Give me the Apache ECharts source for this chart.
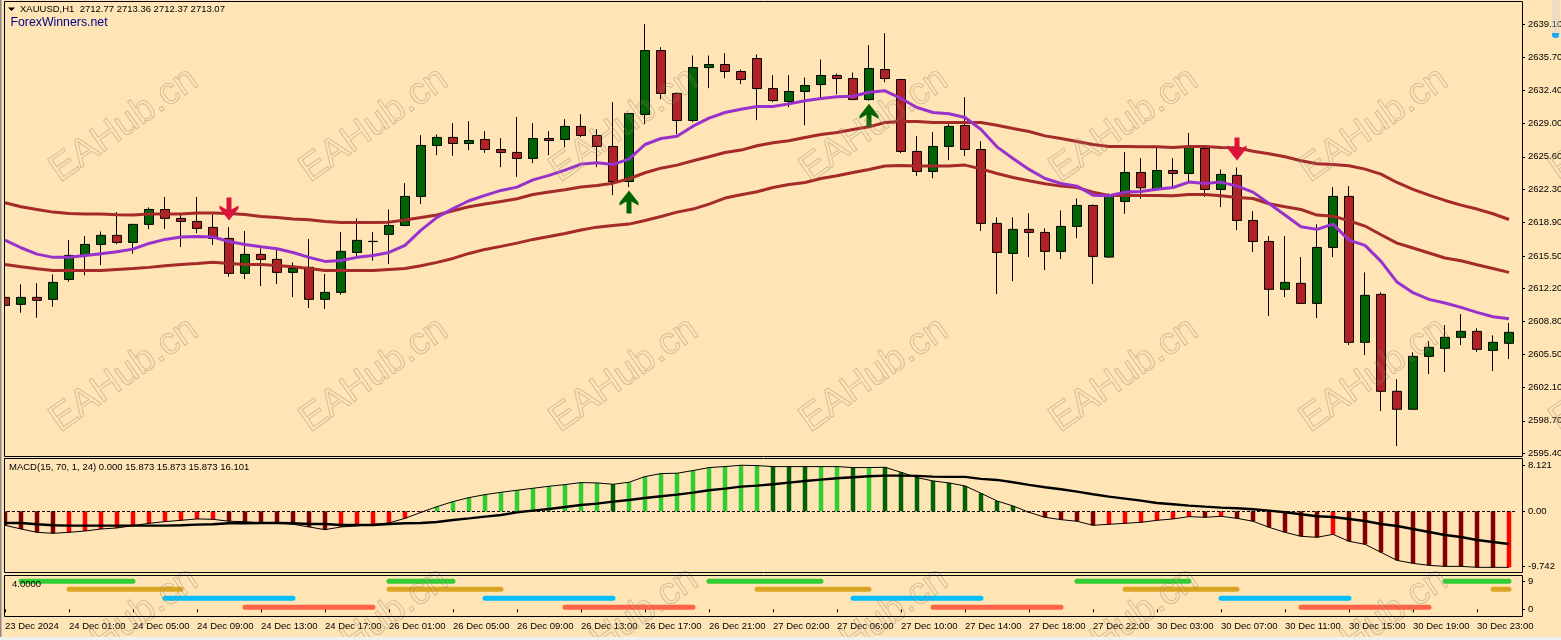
<!DOCTYPE html>
<html><head><meta charset="utf-8">
<style>html,body{margin:0;padding:0;background:#FFE4B5}#c{width:1561px;height:640px}</style>
<script src="https://cdn.jsdelivr.net/npm/echarts@6/dist/echarts.min.js"></script>
</head><body><div id="c"></div><script>
const tickLabels=['23 Dec 2024','24 Dec 01:00','24 Dec 05:00','24 Dec 09:00','24 Dec 13:00','24 Dec 17:00','26 Dec 01:00','26 Dec 05:00','26 Dec 09:00','26 Dec 13:00','26 Dec 17:00','26 Dec 21:00','27 Dec 02:00','27 Dec 06:00','27 Dec 10:00','27 Dec 14:00','27 Dec 18:00','27 Dec 22:00','30 Dec 03:00','30 Dec 07:00','30 Dec 11:00','30 Dec 15:00','30 Dec 19:00','30 Dec 23:00'];
const priceTicks=[2595.4,2598.7,2602.1,2605.5,2608.8,2612.2,2615.5,2618.9,2622.3,2625.6,2629.0,2632.4,2635.7,2639.1];
const opens=[
2611.28,2610.57,2611.28,2611.08,2613.11,2615.56,2616.68,2617.6,2616.88,2618.72,
2620.24,2619.33,2619.02,2618.41,2617.29,2613.73,2615.66,2615.15,2613.83,2614.34,
2611.08,2611.79,2615.86,2616.97,2617.7,2618.61,2621.57,2626.76,2627.58,2626.96,
2627.37,2626.35,2626.05,2625.44,2627.47,2627.37,2628.7,2627.78,2626.66,2623.09,
2629.92,2636.43,2632.06,2629.31,2634.7,2635.01,2634.3,2635.62,2632.56,2631.24,
2632.26,2632.97,2633.89,2633.58,2631.44,2634.5,2633.48,2626.15,2624.11,2626.66,
2628.8,2626.35,2618.82,2615.76,2618.21,2617.9,2615.97,2618.51,2620.65,2615.39,
2621.06,2624.01,2622.28,2624.21,2623.91,2626.45,2622.28,2623.71,2619.12,2616.98,
2612.1,2612.71,2610.67,2616.37,2621.57,2606.7,2611.59,2601.71,2599.88,2605.27,
2606.09,2607.21,2607.82,2605.88,2606.6];
const closes=[
2610.47,2611.28,2610.98,2612.81,2615.56,2616.68,2617.6,2616.88,2618.72,2620.24,
2619.33,2619.02,2618.31,2617.29,2613.73,2615.66,2615.15,2613.83,2614.23,2611.08,
2611.79,2615.97,2617.09,2616.99,2618.61,2621.57,2626.76,2627.58,2626.96,2627.27,
2626.35,2626.05,2625.44,2627.47,2627.27,2628.7,2627.78,2626.66,2623.09,2630.02,
2636.43,2632.06,2629.31,2634.7,2635.01,2634.3,2633.48,2632.56,2631.34,2632.26,
2632.87,2633.89,2633.58,2631.44,2634.6,2633.58,2626.15,2624.11,2626.66,2628.7,
2626.35,2618.82,2615.86,2618.21,2617.9,2615.97,2618.51,2620.65,2615.46,2621.6,
2624.01,2622.45,2624.21,2623.91,2626.59,2622.28,2623.81,2619.12,2616.98,2612.1,
2612.81,2610.67,2616.37,2621.57,2606.7,2611.49,2601.71,2599.88,2605.27,2606.19,
2607.21,2607.82,2605.99,2606.7,2607.72];
const lows=[
2609.92,2609.72,2609.21,2610.33,2612.88,2613.52,2614.57,2616.71,2615.73,2618.24,
2618.24,2616.41,2617.83,2616.61,2613.39,2613.15,2612.44,2612.64,2611.32,2610.2,
2610.09,2611.55,2615.49,2615.02,2614.68,2618.55,2620.79,2625.78,2625.71,2626.29,
2626.01,2624.55,2623.57,2624.96,2625.78,2626.59,2627.61,2624.55,2621.7,2622.52,
2628.93,2631.48,2627.91,2629.14,2632.6,2633.62,2633.01,2629.34,2631.17,2630.66,
2628.83,2631.68,2631.99,2631.44,2631.31,2633.21,2625.98,2623.64,2623.43,2625.27,
2625.67,2618.04,2611.62,2612.94,2615.39,2614.07,2615.19,2617.32,2612.64,2615.32,
2619.8,2621.33,2622.21,2622.55,2623.06,2621.53,2620.48,2618.14,2615.9,2609.38,
2611.32,2610.67,2609.18,2615.39,2606.43,2605.41,2599.71,2596.14,2599.88,2603.47,
2603.68,2606.43,2605.72,2603.78,2605.0];
const highs=[
2612.71,2612.61,2612.71,2613.62,2617.12,2617.53,2618.0,2619.97,2618.72,2620.45,
2621.5,2619.84,2621.5,2619.73,2618.44,2618.04,2616.27,2616.17,2614.85,2617.22,
2613.66,2617.93,2619.33,2617.93,2620.24,2622.92,2627.81,2627.88,2629.03,2629.24,
2628.22,2627.51,2629.65,2629.03,2628.22,2629.44,2629.95,2628.42,2631.17,2630.05,
2639.12,2636.77,2632.16,2635.93,2635.93,2636.16,2634.5,2636.03,2633.92,2633.92,
2633.68,2635.52,2634.09,2634.19,2636.98,2638.2,2633.48,2627.71,2628.12,2628.93,
2631.68,2627.2,2619.43,2619.43,2619.84,2618.31,2620.14,2621.36,2620.75,2621.87,
2626.08,2625.47,2626.49,2625.47,2628.02,2626.62,2624.32,2624.52,2620.07,2617.53,
2617.53,2615.39,2618.72,2622.52,2622.62,2613.83,2611.79,2602.93,2605.68,2606.84,
2608.46,2609.58,2608.13,2607.41,2608.67];
const upperBand=[
2620.92,2620.51,2620.24,2619.97,2619.84,2619.77,2619.77,2619.7,2619.67,2619.77,
2619.77,2619.77,2619.87,2619.87,2619.84,2619.73,2619.53,2619.43,2619.26,2619.19,
2619.02,2618.92,2618.92,2618.92,2618.95,2619.16,2619.43,2619.67,2620.11,2620.51,
2620.79,2621.06,2621.33,2621.77,2622.01,2622.25,2622.52,2622.69,2622.92,2623.37,
2623.98,2624.45,2624.76,2625.2,2625.61,2626.05,2626.29,2626.73,2627.03,2627.24,
2627.58,2627.88,2628.08,2628.39,2628.66,2629.1,2629.2,2629.2,2629.1,2629.1,
2629.1,2629.1,2628.83,2628.49,2628.19,2627.74,2627.47,2627.17,2626.86,2626.66,
2626.66,2626.62,2626.62,2626.56,2626.66,2626.66,2626.56,2626.52,2626.18,2625.91,
2625.61,2625.2,2624.89,2624.83,2624.69,2624.35,2623.84,2622.99,2622.28,2621.7,
2621.16,2620.68,2620.28,2619.8,2619.22];
const lowerBand=[
2614.64,2614.4,2614.2,2614.03,2614.03,2614.03,2614.03,2614.13,2614.23,2614.34,
2614.51,2614.64,2614.74,2614.85,2614.74,2614.64,2614.64,2614.54,2614.4,2614.23,
2614.03,2614.03,2614.03,2614.03,2614.13,2614.23,2614.51,2614.85,2615.25,2615.76,
2616.17,2616.48,2616.81,2617.19,2617.49,2617.8,2618.14,2618.44,2618.61,2618.75,
2619.12,2619.53,2619.97,2620.28,2620.79,2621.4,2621.74,2622.04,2622.48,2622.79,
2622.99,2623.4,2623.67,2624.01,2624.32,2624.66,2624.72,2624.66,2624.66,2624.66,
2624.76,2624.38,2623.91,2623.5,2623.16,2622.86,2622.62,2622.48,2622.01,2621.67,
2621.7,2621.67,2621.67,2621.63,2621.77,2621.77,2621.63,2621.47,2621.36,2620.82,
2620.51,2620.24,2619.67,2619.56,2619.09,2618.55,2617.66,2616.81,2616.31,2615.8,
2615.29,2615.02,2614.61,2614.23,2613.83];
const purpleLine=[
2617.12,2616.34,2615.69,2615.36,2615.36,2615.56,2615.73,2615.93,2616.2,2616.78,
2617.19,2617.43,2617.49,2617.43,2616.98,2616.68,2616.44,2616.24,2615.86,2615.36,
2614.95,2615.05,2615.36,2615.56,2615.86,2616.58,2618.14,2619.43,2620.34,2621.13,
2621.67,2622.18,2622.52,2623.26,2623.71,2624.25,2624.86,2625.0,2624.83,2625.37,
2626.86,2627.47,2627.71,2628.73,2629.54,2630.12,2630.46,2630.73,2630.73,2631.0,
2631.31,2631.55,2631.72,2631.78,2632.19,2632.33,2631.55,2630.63,2630.12,2629.99,
2629.61,2628.39,2626.62,2625.44,2624.32,2623.4,2622.89,2622.62,2621.7,2621.63,
2622.01,2622.08,2622.31,2622.48,2623.03,2622.89,2623.03,2622.62,2622.01,2620.85,
2619.67,2618.48,2618.21,2618.75,2617.12,2616.58,2614.95,2612.84,2611.76,2611.08,
2610.71,2610.26,2609.75,2609.31,2609.11];
const macdHist=[
-2.47,-3.12,-3.71,-3.88,-3.71,-3.47,-3.12,-2.94,-2.53,-2.12,
-1.82,-1.59,-1.35,-1.41,-1.76,-1.82,-2.06,-2.06,-2.29,-2.76,
-3.24,-2.76,-2.59,-2.29,-2.06,-1.24,-0.18,0.82,1.71,2.41,
2.94,3.35,3.71,4.06,4.41,4.71,5.06,5.0,4.76,5.12,
6.12,6.65,6.71,7.18,7.71,7.88,8.12,8.06,7.88,7.88,
7.88,7.88,7.88,7.71,7.71,7.76,6.88,5.94,5.35,5.0,
4.47,3.18,1.82,0.94,-0.18,-1.06,-1.47,-1.76,-2.47,-2.29,
-2.12,-1.94,-1.59,-1.35,-0.94,-1.06,-0.88,-1.24,-1.76,-2.82,
-3.71,-4.41,-4.59,-4.06,-5.29,-5.82,-7.24,-8.65,-9.18,-9.53,
-9.71,-9.71,-9.88,-9.88,-9.88];
const macdDark=[
1,1,1,1,0,0,0,0,0,0,
0,0,0,0,1,1,1,1,1,1,
1,0,0,0,0,0,0,0,0,0,
0,0,0,0,0,0,0,0,1,0,
0,0,0,0,0,0,0,0,1,1,
1,0,0,1,0,1,1,1,1,1,
1,1,1,1,1,1,1,1,1,0,
0,0,0,0,0,1,0,1,1,1,
1,1,1,0,1,1,1,1,1,1,
1,1,1,1,0];
const macdSignal=[
-2.06,-2.06,-2.29,-2.47,-2.53,-2.53,-2.53,-2.53,-2.53,-2.53,
-2.53,-2.47,-2.35,-2.29,-2.12,-2.12,-2.06,-2.06,-2.12,-2.24,
-2.24,-2.41,-2.41,-2.41,-2.24,-2.12,-2.06,-1.88,-1.53,-1.24,
-0.94,-0.65,-0.18,0.12,0.41,0.76,1.12,1.35,1.71,2.0,
2.35,2.65,2.94,3.29,3.71,4.0,4.35,4.53,4.76,5.06,
5.35,5.59,5.82,6.0,6.18,6.29,6.29,6.24,6.12,6.06,
6.06,5.71,5.53,5.12,4.65,4.24,3.88,3.47,3.0,2.59,
2.24,1.88,1.47,1.24,1.0,0.82,0.65,0.53,0.35,0.12,
-0.18,-0.53,-0.88,-1.0,-1.35,-1.71,-2.24,-2.59,-3.12,-3.65,
-4.18,-4.53,-5.06,-5.41,-5.76];
const downArrows=[[14,2620.28],[77,2626.39]];
const upArrows=[[39,2620.99],[54,2629.85]];
const greenSpans=[[1,8],[24,28],[44,51],[67,74],[90,94]];
const goldSpans=[[4,11],[24,31],[47,54],[70,77],[93,94]];
const blueSpans=[[10,18],[30,38],[53,61],[76,84]];
const orangeSpans=[[15,23],[35,43],[58,66],[81,89]];
const stripeLevels=[9,6.43,3.54,0.64];

const n=opens.length;
const categories=opens.map((_,i)=>i%4===0?tickLabels[i/4]:'c'+i);
const candleData=opens.map((o,i)=>[o,closes[i],lows[i],highs[i]]);
const spanLine=(spans,level)=>{
  const a=new Array(n).fill(null);
  spans.forEach(([s,e])=>{for(let i=s;i<=e;i++)a[i]=level;});
  return a;
};
const FONT='"Liberation Sans",Arial,sans-serif';
const SMALL=9.5;
const chart=echarts.init(document.getElementById('c'),null,{renderer:'canvas'});
const frameStroke={stroke:'#000',lineWidth:1,fill:'transparent'};
const els=[];
// watermark
for(const cy of [125,375,625]) for(const cx of [124,374,624,874,1124,1374,1624]){
  els.push({type:'text',x:cx,y:cy,rotation:35*Math.PI/180,z:50,silent:true,
    style:{text:'EAHub.cn',font:'38px '+FONT,align:'center',verticalAlign:'middle',
      textAlign:'center',textVerticalAlign:'middle',fill:'rgba(255,255,255,0.06)',stroke:'rgba(130,110,80,0.34)',lineWidth:1}});
}
// window edges and panel frames
els.push({type:'rect',z:60,shape:{x:0,y:0,width:4,height:640},style:{fill:'#FFE4B5'}});
els.push({type:'rect',z:61,shape:{x:0,y:0,width:1.5,height:637},style:{fill:'#8a8a8a'}});
els.push({type:'rect',z:61,shape:{x:0,y:637,width:1561,height:3},style:{fill:'#F0F0F0'}});
[[1.5,455],[458.5,114],[575.5,41]].forEach(([y,h])=>{
  els.push({type:'rect',z:62,shape:{x:4.5,y,width:1518,height:h},style:frameStroke});
});
els.push({type:'rect',z:10,shape:{x:1552,y:0,width:8,height:38},style:{fill:'rgba(200,205,215,0.35)'}});
els.push({type:'rect',z:11,shape:{x:1552,y:33,width:7,height:5,r:[0,0,3,3]},style:{fill:'#1EA7F2'}});
// header texts
els.push({type:'polygon',z:70,shape:{points:[[8,7.5],[15,7.5],[11.5,11]]},style:{fill:'#000'}});
const txt=(x,y,text,font,fill)=>els.push({type:'text',x,y,z:70,silent:true,
  style:{text,font,fill,textVerticalAlign:'middle',verticalAlign:'middle'}});
txt(20,9.5,'XAUUSD,H1  2712.77 2713.36 2712.37 2713.07',SMALL+'px '+FONT,'#000');
txt(10.5,23,'ForexWinners.net','12.3px '+FONT,'#00008B');
txt(9,467.5,'MACD(15, 70, 1, 24) 0.000 15.873 15.873 15.873 16.101',SMALL+'px '+FONT,'#000');
txt(12,584,'4.0000',SMALL+'px '+FONT,'#000');

const yCommon={type:'value',position:'right',offset:5,scale:true,splitLine:{show:false},axisLine:{show:false},
  axisTick:{show:true,length:3,lineStyle:{color:'#000'}},
  axisLabel:{color:'#000',fontFamily:FONT,fontSize:SMALL,margin:6,showMinLabel:true,showMaxLabel:true}};
const xCommon={type:'category',data:categories,boundaryGap:true,axisLine:{show:false},splitLine:{show:false}};
const levelSeries=(name,spans,level,color)=>({name,type:'line',xAxisIndex:2,yAxisIndex:2,data:spanLine(spans,level),
  showSymbol:false,symbol:'none',connectNulls:false,silent:true,animation:false,
  lineStyle:{color,width:5,cap:'round'}});
const bandSeries=(name,data,color)=>({name,type:'line',xAxisIndex:0,yAxisIndex:0,data,symbol:'none',silent:true,
  animation:false,lineStyle:{color,width:3},z:3});

chart.setOption({
  animation:false,
  backgroundColor:'#FFE4B5',
  graphic:{elements:els},
  grid:[
    {left:-3,top:2,width:1520,height:454,outerBoundsMode:'none'},
    {left:-3,top:459,width:1520,height:114,outerBoundsMode:'none'},
    {left:-3,top:576,width:1520,height:40,outerBoundsMode:'none'}
  ],
  xAxis:[
    Object.assign({},xCommon,{gridIndex:0,axisTick:{show:false},axisLabel:{show:false}}),
    Object.assign({},xCommon,{gridIndex:1,axisTick:{show:false},axisLabel:{show:false}}),
    Object.assign({},xCommon,{gridIndex:2,
      axisTick:{show:true,alignWithLabel:true,interval:3,length:3,lineStyle:{color:'#000'}},
      axisLabel:{show:true,interval:3,align:'left',margin:5,color:'#000',fontFamily:FONT,fontSize:SMALL,hideOverlap:false}})
  ],
  yAxis:[
    Object.assign({},yCommon,{gridIndex:0,min:2595.12,max:2641.38,
      axisTick:Object.assign({},yCommon.axisTick,{customValues:priceTicks}),
      axisLabel:Object.assign({},yCommon.axisLabel,{customValues:priceTicks,formatter:v=>v.toFixed(2)})}),
    Object.assign({},yCommon,{gridIndex:1,min:-10.88,max:9.22,
      axisTick:Object.assign({},yCommon.axisTick,{customValues:[-9.742,0,8.121]}),
      axisLabel:Object.assign({},yCommon.axisLabel,{customValues:[-9.742,0,8.121],formatter:v=>v===0?'0.00':v.toFixed(3)})}),
    Object.assign({},yCommon,{gridIndex:2,min:-2.15,max:10.71,
      axisTick:Object.assign({},yCommon.axisTick,{customValues:[0,9]}),
      axisLabel:Object.assign({},yCommon.axisLabel,{customValues:[0,9],formatter:v=>String(v)})})
  ],
  series:[
    {name:'XAUUSD',type:'candlestick',xAxisIndex:0,yAxisIndex:0,data:candleData,barWidth:10,silent:true,z:2,
      itemStyle:{color:'#006400',color0:'#B22222',borderColor:'#000',borderColor0:'#000',borderWidth:1}},
    bandSeries('Upper band',upperBand,'#A52A2A'),
    bandSeries('Lower band',lowerBand,'#A52A2A'),
    bandSeries('Fast line',purpleLine,'#9932CC'),
    {name:'Sell',type:'scatter',xAxisIndex:0,yAxisIndex:0,data:downArrows,z:4,silent:true,symbolSize:[19,23],
      symbol:'path://M7,0H12V12L19,8V11L9.5,23L0,11V8L7,12Z',itemStyle:{color:'#DC143C',opacity:1}},
    {name:'Buy',type:'scatter',xAxisIndex:0,yAxisIndex:0,data:upArrows,z:4,silent:true,symbolSize:[19,23],
      symbol:'path://M7,23H12V11L19,15V12L9.5,0L0,12V15L7,11Z',itemStyle:{color:'#006400',opacity:1}},
    {name:'MACD',type:'bar',xAxisIndex:1,yAxisIndex:1,silent:true,barWidth:4.5,z:2,
      data:macdHist.map((v,i)=>({value:v,itemStyle:{color:v>=0?(macdDark[i]?'#006400':'#32CD32'):(macdDark[i]?'#800000':'#FF0000')}})),
      markLine:{silent:true,symbol:'none',animation:false,label:{show:false},lineStyle:{color:'#000',width:1,type:[3,2]},data:[{yAxis:0}]}},
    {name:'MACD tips',type:'line',xAxisIndex:1,yAxisIndex:1,data:macdHist,symbol:'none',silent:true,z:3,lineStyle:{color:'#000',width:1}},
    {name:'Signal',type:'line',xAxisIndex:1,yAxisIndex:1,data:macdSignal,symbol:'none',silent:true,z:4,lineStyle:{color:'#000',width:2.4}},
    levelSeries('Green',greenSpans,stripeLevels[0],'#32CD32'),
    levelSeries('Gold',goldSpans,stripeLevels[1],'#DAA520'),
    levelSeries('Blue',blueSpans,stripeLevels[2],'#00BFFF'),
    levelSeries('Orange',orangeSpans,stripeLevels[3],'#FF6347')
  ]
});
</script></body></html>
